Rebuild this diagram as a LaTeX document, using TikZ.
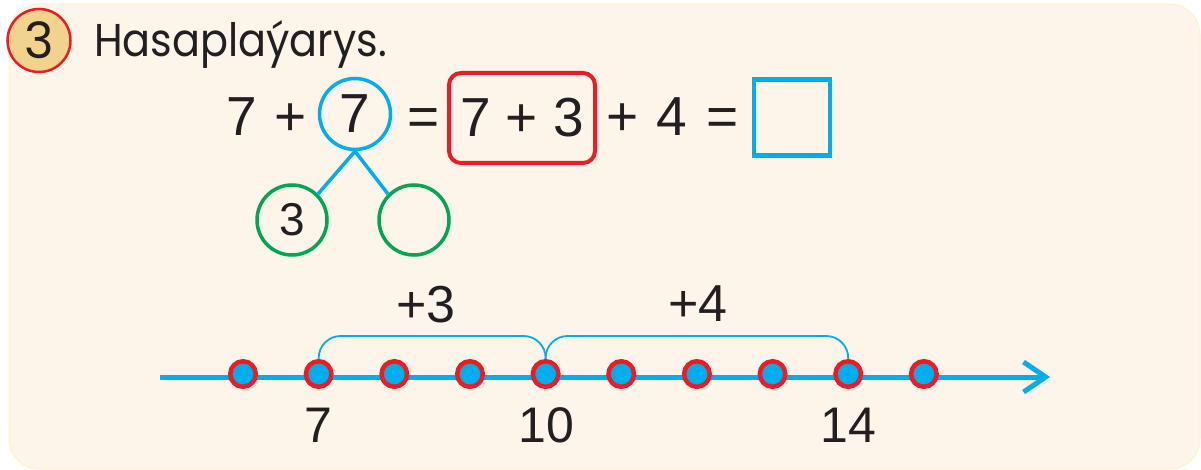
\documentclass[tikz,border=0pt]{standalone}
\usepackage{fontspec}
\setmainfont{Liberation Sans}
\newfontfamily\titlefont{Poppins}
\usepackage{xcolor}
\usepackage{graphicx}
\usepackage{tikz}
\usetikzlibrary{arrows.meta}
\definecolor{nlblue}{HTML}{00AEEF}
\definecolor{nlred}{HTML}{ED1C24}
\definecolor{nlgreen}{HTML}{00A651}
\definecolor{badgefill}{HTML}{F2D38D}
\definecolor{pagecream}{HTML}{FDF4EA}
\definecolor{pageedge}{HTML}{FCF3C8}
\definecolor{inkblack}{HTML}{231F20}

\begin{document}
\begin{tikzpicture}[x=1pt,y=-1pt,
  every node/.style={text=inkblack,inner sep=0pt},
  eqsym/.style={anchor=base,font=\fontsize{55}{60}\selectfont},
  dot/.style={circle,draw=nlred,fill=nlblue,line width=4.5pt,minimum size=25.5pt},
  brace/.style={nlblue,line width=1.8pt,rounded corners=22pt},
  jump/.style={font=\fontsize{52}{56}\selectfont},
  numlbl/.style={font=\fontsize{50}{54}\selectfont},
  tree/.style={nlblue,line width=3.5pt}]
  \useasboundingbox (0,0) rectangle (1201,470);
  \fill[pagecream,draw=pageedge,line width=1pt,rounded corners=30pt] (9,4) rectangle (1200,469);
  \node[circle,draw=nlred,fill=badgefill,line width=2.5pt,minimum size=63pt,
    font=\titlefont\fontsize{50}{54}\selectfont] (badge) at (39,40.5) {3};
  \node[anchor=base west,font=\titlefont\fontsize{46}{50}\selectfont] (title) at (94,57)
    {\scalebox{0.9}[1]{Hasaplaýarys.}};
  \node[eqsym] (a7) at (241.5,136) {7};
  \node[eqsym] (p1) at (291,136) {+};
  \node[circle,draw=nlblue,line width=3.5pt,minimum size=71pt,font=\fontsize{55}{60}\selectfont] (e7) at (355,114) {7};
  \node[eqsym] (q1) at (423.5,136) {=};
  \node[draw=nlred,line width=4pt,rounded corners=12pt,minimum width=146pt,minimum height=90pt,
    font=\fontsize{55}{60}\selectfont] (sum) at (522,118) {7 + 3};
  \node[eqsym] (p2) at (623,136) {+};
  \node[eqsym] (f4) at (672,136) {4};
  \node[eqsym] (q2) at (723,136) {=};
  \node[draw=nlblue,line width=4.5pt,minimum size=76pt] (ans) at (792,117.5) {};
  \node[circle,draw=nlgreen,line width=3.5pt,minimum size=70pt,font=\fontsize{46}{50}\selectfont] (g3) at (292,220) {3};
  \node[circle,draw=nlgreen,line width=3.5pt,minimum size=70pt] (gx) at (414,220) {};
  \draw[tree] (e7.south) -- (g3.45);
  \draw[tree] (e7.south) -- (gx.135);
  \coordinate (ls) at (160,377);
  \coordinate (le) at (1050,377);
  \draw[nlblue,line width=5pt,-{Straight Barb[length=22pt,width=30pt]}] (ls) -- (le);
  \foreach \n [count=\i from 0] in {6,...,15}
    \node[dot] (d\n) at ({243+75.65*\i},374) {};
  \draw[brace] (d7.north) -- ++(0,-23) -| (d10.north);
  \draw[brace] (d10.north) -- ++(0,-23) -| (d14.north);
  \node[jump] (j3) at (426,305) {+3};
  \node[jump] (j4) at (698,304) {+4};
  \node[numlbl] (l7) at (318,425) {7};
  \node[numlbl] (l10) at (546,425) {10};
  \node[numlbl] (l14) at (848,425) {14};
\end{tikzpicture}
\end{document}
